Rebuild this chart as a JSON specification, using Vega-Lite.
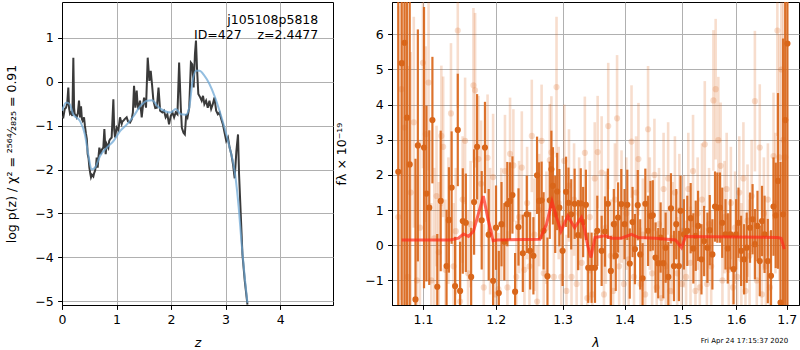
{
"$schema": "https://vega.github.io/schema/vega-lite/v6.json",
"autosize": {"type": "pad"},
"padding": {"left": 5, "top": 1, "right": 1, "bottom": 2},
"background": "white",
"config": {
  "font": "DejaVu Sans",
  "view": {"stroke": "black", "strokeWidth": 1},
  "axis": {"domainColor": "black", "tickColor": "black", "tickSize": 4.4, "labelFontSize": 12.5, "titleFontSize": 12.5, "labelColor": "black", "titleColor": "black", "titleFontWeight": "normal", "gridColor": "#b0b0b0", "gridWidth": 1, "labelPadding": 4.5, "zindex": 1, "labelFlush": false, "labelOverlap": false}
},
"bounds": "flush",
"spacing": 59,
"datasets": {
  "pz": [
    {"z":0,"lp":-0.8},{"z":0.024,"lp":-0.81},{"z":0.05,"lp":-0.62},{"z":0.073,"lp":-0.59},{"z":0.095,"lp":-0.5},{"z":0.116,"lp":-0.13},{"z":0.13,"lp":-0.6},{"z":0.147,"lp":-0.73},{"z":0.165,"lp":-0.7},{"z":0.19,"lp":-0.78},{"z":0.208,"lp":0.55},{"z":0.222,"lp":-0.6},{"z":0.232,"lp":-0.73},{"z":0.25,"lp":-0.76},{"z":0.269,"lp":-0.81},{"z":0.29,"lp":-0.72},{"z":0.312,"lp":-0.43},{"z":0.33,"lp":-0.81},{"z":0.349,"lp":-0.56},{"z":0.365,"lp":-0.85},{"z":0.379,"lp":-0.89},{"z":0.404,"lp":-0.81},{"z":0.42,"lp":-1.0},{"z":0.44,"lp":-1.19},{"z":0.455,"lp":-1.3},{"z":0.471,"lp":-1.65},{"z":0.488,"lp":-1.75},{"z":0.502,"lp":-1.96},{"z":0.52,"lp":-2.1},{"z":0.532,"lp":-2.18},{"z":0.55,"lp":-2.12},{"z":0.575,"lp":-2.16},{"z":0.59,"lp":-2.08},{"z":0.606,"lp":-2.03},{"z":0.625,"lp":-1.9},{"z":0.636,"lp":-1.73},{"z":0.654,"lp":-1.96},{"z":0.67,"lp":-1.7},{"z":0.685,"lp":-1.5},{"z":0.709,"lp":-1.65},{"z":0.73,"lp":-1.55},{"z":0.758,"lp":-1.5},{"z":0.777,"lp":-1.08},{"z":0.801,"lp":-1.65},{"z":0.82,"lp":-1.42},{"z":0.85,"lp":-1.5},{"z":0.865,"lp":-1.35},{"z":0.881,"lp":-1.31},{"z":0.911,"lp":-1.27},{"z":0.942,"lp":-0.4},{"z":0.958,"lp":-1.1},{"z":0.972,"lp":-1.27},{"z":1.003,"lp":-1.04},{"z":1.034,"lp":-1.1},{"z":1.064,"lp":-0.81},{"z":1.095,"lp":-0.96},{"z":1.11,"lp":-0.9},{"z":1.125,"lp":-0.89},{"z":1.15,"lp":-0.85},{"z":1.186,"lp":-0.81},{"z":1.21,"lp":-0.9},{"z":1.248,"lp":-0.93},{"z":1.278,"lp":-0.86},{"z":1.3,"lp":-0.7},{"z":1.321,"lp":-0.09},{"z":1.346,"lp":-0.59},{"z":1.37,"lp":-0.2},{"z":1.385,"lp":-0.5},{"z":1.401,"lp":-0.63},{"z":1.431,"lp":-0.43},{"z":1.462,"lp":-0.81},{"z":1.48,"lp":-0.6},{"z":1.505,"lp":-0.36},{"z":1.541,"lp":-0.59},{"z":1.572,"lp":0.55},{"z":1.602,"lp":0.02},{"z":1.627,"lp":0.25},{"z":1.651,"lp":-0.06},{"z":1.676,"lp":-0.43},{"z":1.71,"lp":-0.6},{"z":1.74,"lp":-0.59},{"z":1.77,"lp":-0.13},{"z":1.8,"lp":-0.66},{"z":1.84,"lp":-0.7},{"z":1.87,"lp":-0.66},{"z":1.901,"lp":-0.81},{"z":1.932,"lp":-0.74},{"z":1.963,"lp":-0.97},{"z":1.994,"lp":-0.78},{"z":2.025,"lp":-0.7},{"z":2.056,"lp":-0.81},{"z":2.086,"lp":-0.7},{"z":2.117,"lp":-0.74},{"z":2.148,"lp":0.44},{"z":2.179,"lp":-0.59},{"z":2.198,"lp":-1.05},{"z":2.228,"lp":-1.16},{"z":2.253,"lp":-1.2},{"z":2.278,"lp":-0.74},{"z":2.302,"lp":-0.81},{"z":2.333,"lp":-0.59},{"z":2.364,"lp":0.44},{"z":2.389,"lp":0.4},{"z":2.414,"lp":-0.13},{"z":2.438,"lp":0.63},{"z":2.457,"lp":0.94},{"z":2.475,"lp":0.33},{"z":2.5,"lp":-0.28},{"z":2.537,"lp":-0.36},{"z":2.562,"lp":-0.43},{"z":2.586,"lp":-0.32},{"z":2.611,"lp":-0.51},{"z":2.642,"lp":-0.43},{"z":2.673,"lp":-0.59},{"z":2.704,"lp":-0.43},{"z":2.735,"lp":-0.62},{"z":2.765,"lp":-0.51},{"z":2.796,"lp":-0.36},{"z":2.827,"lp":-0.66},{"z":2.858,"lp":-0.74},{"z":2.889,"lp":-0.7},{"z":2.92,"lp":-0.85},{"z":2.951,"lp":-0.97},{"z":2.981,"lp":-1.16},{"z":3.012,"lp":-1.35},{"z":3.043,"lp":-1.27},{"z":3.074,"lp":-1.5},{"z":3.105,"lp":-1.65},{"z":3.136,"lp":-1.88},{"z":3.167,"lp":-2.2},{"z":3.198,"lp":-1.58},{"z":3.228,"lp":-1.2},{"z":3.247,"lp":-2.1},{"z":3.278,"lp":-3.02},{"z":3.309,"lp":-3.93},{"z":3.352,"lp":-4.54},{"z":3.401,"lp":-5.08}
  ],
  "smooth": [
    {"z":0,"lp":-0.66},{"z":0.08,"lp":-0.47},{"z":0.142,"lp":-0.51},{"z":0.204,"lp":-0.74},{"z":0.327,"lp":-0.89},{"z":0.42,"lp":-1.2},{"z":0.481,"lp":-1.65},{"z":0.543,"lp":-2.0},{"z":0.605,"lp":-1.96},{"z":0.698,"lp":-1.69},{"z":0.821,"lp":-1.5},{"z":0.944,"lp":-1.35},{"z":1.068,"lp":-1.12},{"z":1.191,"lp":-0.97},{"z":1.315,"lp":-0.78},{"z":1.438,"lp":-0.55},{"z":1.562,"lp":-0.43},{"z":1.654,"lp":-0.42},{"z":1.747,"lp":-0.55},{"z":1.87,"lp":-0.66},{"z":1.994,"lp":-0.7},{"z":2.086,"lp":-0.62},{"z":2.179,"lp":-0.74},{"z":2.272,"lp":-0.75},{"z":2.333,"lp":-0.59},{"z":2.395,"lp":0.02},{"z":2.457,"lp":0.25},{"z":2.519,"lp":0.25},{"z":2.611,"lp":0.14},{"z":2.704,"lp":-0.05},{"z":2.796,"lp":-0.32},{"z":2.889,"lp":-0.66},{"z":2.981,"lp":-1.05},{"z":3.074,"lp":-1.5},{"z":3.167,"lp":-2.04},{"z":3.241,"lp":-2.87},{"z":3.29,"lp":-3.63},{"z":3.352,"lp":-4.47},{"z":3.401,"lp":-5.04}
  ],
  "dark": [
    {"l":1.068,"f":2.09,"e":9},{"l":1.0724,"f":5.18,"e":9},{"l":1.076,"f":5.76,"e":9},{"l":1.0791,"f":3.63,"e":9},{"l":1.0827,"f":2.3,"e":9},{"l":1.0902,"f":-1.54,"e":4},{"l":1.0933,"f":2.84,"e":3.3},{"l":1.1014,"f":2.78,"e":4},{"l":1.1046,"f":1.47,"e":2.5},{"l":1.1083,"f":1.07,"e":2.2},{"l":1.1125,"f":3.56,"e":1.8},{"l":1.119,"f":-1.18,"e":1.5},{"l":1.1236,"f":1.26,"e":2},{"l":1.1315,"f":-0.59,"e":1.6},{"l":1.1347,"f":0.72,"e":1.5},{"l":1.1384,"f":1.64,"e":1.6},{"l":1.1431,"f":-1.16,"e":1.4},{"l":1.1468,"f":3.28,"e":1.6},{"l":1.15,"f":-1.3,"e":1.4},{"l":1.1537,"f":0.69,"e":1.5},{"l":1.1579,"f":0.64,"e":1.4},{"l":1.1653,"f":-0.9,"e":1.4},{"l":1.1694,"f":1.23,"e":1.5},{"l":1.1736,"f":2.8,"e":1.5},{"l":1.1801,"f":0.71,"e":1.4},{"l":1.1847,"f":2.78,"e":1.3},{"l":1.19,"f":0.3,"e":1.3},{"l":1.1963,"f":-1.01,"e":1.2},{"l":1.2005,"f":0.5,"e":1.2},{"l":1.2045,"f":-1.36,"e":1.2},{"l":1.2084,"f":0.6,"e":1.2},{"l":1.2125,"f":0.1,"e":1.1},{"l":1.2168,"f":1.17,"e":1.2},{"l":1.2208,"f":1.26,"e":1.1},{"l":1.2243,"f":1.43,"e":1.1},{"l":1.2282,"f":-1.32,"e":1.1},{"l":1.2332,"f":0.52,"e":1.1},{"l":1.2396,"f":-0.23,"e":1.1},{"l":1.2455,"f":0.88,"e":1.1},{"l":1.2505,"f":-0.16,"e":1.1},{"l":1.2554,"f":-0.3,"e":1.1},{"l":1.2609,"f":1.99,"e":1.1},{"l":1.2639,"f":1.26,"e":1.1},{"l":1.2678,"f":1.28,"e":1.1},{"l":1.2708,"f":0.41,"e":1.1},{"l":1.2767,"f":-0.88,"e":1.1},{"l":1.2802,"f":1.28,"e":1.1},{"l":1.2827,"f":2.16,"e":1.1},{"l":1.2851,"f":1.69,"e":1.1},{"l":1.2886,"f":0.88,"e":1.1},{"l":1.2916,"f":1.53,"e":1.1},{"l":1.295,"f":1.07,"e":1.1},{"l":1.3,"f":-0.16,"e":1.0},{"l":1.3054,"f":1.52,"e":1.0},{"l":1.3092,"f":1.21,"e":1.0},{"l":1.3135,"f":0.88,"e":1.0},{"l":1.3189,"f":1.18,"e":1.0},{"l":1.3243,"f":0.29,"e":1.0},{"l":1.3286,"f":1.19,"e":1.0},{"l":1.3324,"f":0.66,"e":1.0},{"l":1.3368,"f":1.15,"e":1.0},{"l":1.3405,"f":-0.64,"e":1.0},{"l":1.3459,"f":-0.64,"e":1.0},{"l":1.3514,"f":-0.64,"e":1.0},{"l":1.3551,"f":0.41,"e":1.0},{"l":1.3622,"f":-0.16,"e":1.0},{"l":1.3676,"f":0.39,"e":1.0},{"l":1.3724,"f":1.18,"e":1.0},{"l":1.3773,"f":-0.73,"e":1.0},{"l":1.3822,"f":0.6,"e":1.0},{"l":1.3854,"f":-0.3,"e":1.0},{"l":1.3892,"f":0.79,"e":1.0},{"l":1.3946,"f":1.17,"e":1.0},{"l":1.4,"f":0.6,"e":1.0},{"l":1.4047,"f":1.15,"e":1.0},{"l":1.4088,"f":-0.52,"e":1.0},{"l":1.4135,"f":0.66,"e":1.0},{"l":1.4176,"f":-0.11,"e":1.0},{"l":1.4224,"f":1.14,"e":1.0},{"l":1.4265,"f":-0.26,"e":1.0},{"l":1.4306,"f":-0.94,"e":1.0},{"l":1.4353,"f":1.18,"e":1.0},{"l":1.44,"f":0.41,"e":1.0},{"l":1.4441,"f":0.83,"e":1.0},{"l":1.4482,"f":0.85,"e":1.0},{"l":1.4529,"f":-0.35,"e":1.0},{"l":1.4576,"f":-0.51,"e":1.0},{"l":1.4618,"f":0.22,"e":1.0},{"l":1.4665,"f":-0.51,"e":1.0},{"l":1.4706,"f":-0.07,"e":1.0},{"l":1.4753,"f":-0.9,"e":1.0},{"l":1.48,"f":1.05,"e":1.0},{"l":1.4853,"f":-0.59,"e":1.0},{"l":1.4894,"f":0.6,"e":1.0},{"l":1.4941,"f":-0.59,"e":1.0},{"l":1.4971,"f":0.98,"e":1.0},{"l":1.5031,"f":0.31,"e":1.0},{"l":1.5092,"f":0.41,"e":1.0},{"l":1.5153,"f":0.77,"e":1.0},{"l":1.5202,"f":-0.09,"e":1.0},{"l":1.5245,"f":0.27,"e":1.0},{"l":1.5288,"f":0.55,"e":1.0},{"l":1.535,"f":-0.4,"e":1.0},{"l":1.5399,"f":0.12,"e":1.0},{"l":1.546,"f":-0.07,"e":1.0},{"l":1.5503,"f":0.43,"e":1.0},{"l":1.5552,"f":-0.26,"e":1.0},{"l":1.5601,"f":1.1,"e":1.0},{"l":1.5644,"f":1.07,"e":1.0},{"l":1.5693,"f":1.07,"e":1.0},{"l":1.5736,"f":0.64,"e":1.0},{"l":1.5798,"f":0.31,"e":1.0},{"l":1.5841,"f":-0.09,"e":1.0},{"l":1.589,"f":0.31,"e":1.0},{"l":1.5951,"f":-0.68,"e":1.0},{"l":1.6,"f":0.31,"e":1.0},{"l":1.6045,"f":0.64,"e":1.0},{"l":1.6096,"f":-0.16,"e":1.0},{"l":1.6153,"f":-0.4,"e":1.0},{"l":1.6204,"f":-0.07,"e":1.0},{"l":1.6268,"f":0.5,"e":1.0},{"l":1.6318,"f":0.74,"e":1.0},{"l":1.6363,"f":0.03,"e":1.0},{"l":1.6414,"f":0.55,"e":1.0},{"l":1.6459,"f":-0.45,"e":1.0},{"l":1.6503,"f":0.69,"e":1.0},{"l":1.6554,"f":0.31,"e":1.1},{"l":1.6618,"f":-0.45,"e":1.2},{"l":1.6682,"f":-0.87,"e":1.3},{"l":1.6732,"f":1.1,"e":1.4},{"l":1.6777,"f":0.85,"e":1.5},{"l":1.6822,"f":1.83,"e":2.5},{"l":1.6873,"f":-1.63,"e":4},{"l":1.6924,"f":0.88,"e":5},{"l":1.6968,"f":3.56,"e":8},{"l":1.7013,"f":5.74,"e":9}
  ],
  "light": [
    {"l":1.068,"f":0.8,"e":6},{"l":1.072,"f":4.44,"e":6},{"l":1.076,"f":3.35,"e":6},{"l":1.08,"f":-0.9,"e":6},{"l":1.084,"f":1.5,"e":4},{"l":1.088,"f":3.5,"e":3},{"l":1.092,"f":-1.0,"e":3},{"l":1.096,"f":0.5,"e":2.5},{"l":1.1,"f":5.19,"e":3},{"l":1.1037,"f":3.16,"e":2.5},{"l":1.1074,"f":4.63,"e":2.5},{"l":1.111,"f":-1.0,"e":2.2},{"l":1.115,"f":0.2,"e":2},{"l":1.118,"f":1.4,"e":2},{"l":1.121,"f":-0.2,"e":2},{"l":1.1245,"f":3.11,"e":2},{"l":1.1269,"f":2.8,"e":2},{"l":1.13,"f":-0.7,"e":2},{"l":1.134,"f":0.7,"e":1.8},{"l":1.1375,"f":3.75,"e":2},{"l":1.141,"f":-0.6,"e":1.8},{"l":1.144,"f":0.4,"e":1.8},{"l":1.1468,"f":6.11,"e":2.2},{"l":1.15,"f":-1.6,"e":1.8},{"l":1.1535,"f":1.3,"e":1.8},{"l":1.1569,"f":2.97,"e":1.8},{"l":1.161,"f":-0.8,"e":1.8},{"l":1.1645,"f":0.6,"e":1.8},{"l":1.1685,"f":4.55,"e":2.2},{"l":1.1708,"f":4.41,"e":2.2},{"l":1.1755,"f":2.45,"e":1.8},{"l":1.1792,"f":1.75,"e":1.8},{"l":1.183,"f":-1.2,"e":1.8},{"l":1.1884,"f":2.49,"e":1.8},{"l":1.192,"f":0.4,"e":1.8},{"l":1.1963,"f":1.94,"e":1.8},{"l":1.2,"f":-1.4,"e":1.8},{"l":1.204,"f":-1.25,"e":1.6},{"l":1.208,"f":0.6,"e":1.6},{"l":1.2134,"f":2.11,"e":1.6},{"l":1.217,"f":-1.2,"e":1.6},{"l":1.2208,"f":2.6,"e":1.6},{"l":1.2257,"f":2.27,"e":1.6},{"l":1.23,"f":-0.9,"e":1.6},{"l":1.234,"f":0.8,"e":1.6},{"l":1.2381,"f":2.21,"e":1.6},{"l":1.242,"f":-0.7,"e":1.6},{"l":1.246,"f":1.2,"e":1.6},{"l":1.2495,"f":-0.6,"e":1.6},{"l":1.253,"f":3.11,"e":1.6},{"l":1.257,"f":0.3,"e":1.6},{"l":1.261,"f":-1.6,"e":1.6},{"l":1.264,"f":1.0,"e":1.6},{"l":1.2678,"f":2.97,"e":1.6},{"l":1.271,"f":-0.8,"e":1.6},{"l":1.275,"f":0.5,"e":1.6},{"l":1.2802,"f":2.42,"e":1.6},{"l":1.2827,"f":2.64,"e":1.6},{"l":1.2865,"f":-0.9,"e":1.6},{"l":1.2906,"f":4.5,"e":2},{"l":1.294,"f":1.2,"e":1.6},{"l":1.298,"f":-0.9,"e":1.6},{"l":1.3027,"f":2.4,"e":1.6},{"l":1.306,"f":-1.3,"e":1.6},{"l":1.31,"f":1.7,"e":1.6},{"l":1.314,"f":-0.9,"e":1.6},{"l":1.318,"f":1.3,"e":1.6},{"l":1.322,"f":-1.1,"e":1.6},{"l":1.326,"f":0.9,"e":1.6},{"l":1.33,"f":-0.5,"e":1.6},{"l":1.3351,"f":2.63,"e":1.6},{"l":1.339,"f":-1.5,"e":1.6},{"l":1.343,"f":0.8,"e":1.6},{"l":1.347,"f":-1.4,"e":1.6},{"l":1.351,"f":1.9,"e":1.6},{"l":1.3557,"f":2.65,"e":1.6},{"l":1.3622,"f":2.07,"e":1.6},{"l":1.366,"f":-1.4,"e":1.6},{"l":1.369,"f":0.5,"e":1.6},{"l":1.373,"f":3.39,"e":1.8},{"l":1.377,"f":-0.3,"e":1.6},{"l":1.381,"f":-1.3,"e":1.6},{"l":1.384,"f":1.3,"e":1.6},{"l":1.3876,"f":3.61,"e":1.8},{"l":1.391,"f":-0.6,"e":1.6},{"l":1.395,"f":1.1,"e":1.6},{"l":1.399,"f":-1.1,"e":1.6},{"l":1.403,"f":0.9,"e":1.6},{"l":1.407,"f":-0.4,"e":1.6},{"l":1.4118,"f":2.95,"e":1.6},{"l":1.416,"f":-0.9,"e":1.6},{"l":1.4195,"f":1.5,"e":1.6},{"l":1.4235,"f":2.45,"e":1.6},{"l":1.427,"f":-1.1,"e":1.6},{"l":1.431,"f":0.3,"e":1.6},{"l":1.435,"f":-1.4,"e":1.6},{"l":1.44,"f":3.3,"e":1.8},{"l":1.443,"f":0.9,"e":1.6},{"l":1.447,"f":-0.8,"e":1.6},{"l":1.451,"f":2.0,"e":1.6},{"l":1.455,"f":-1.2,"e":1.6},{"l":1.459,"f":0.6,"e":1.6},{"l":1.463,"f":-1.5,"e":1.6},{"l":1.467,"f":1.6,"e":1.6},{"l":1.471,"f":-0.6,"e":1.6},{"l":1.475,"f":1.9,"e":1.6},{"l":1.479,"f":-1.3,"e":1.6},{"l":1.483,"f":0.2,"e":1.6},{"l":1.487,"f":1.5,"e":1.6},{"l":1.491,"f":-0.8,"e":1.6},{"l":1.495,"f":1.0,"e":1.6},{"l":1.499,"f":-1.1,"e":1.6},{"l":1.503,"f":0.4,"e":1.6},{"l":1.507,"f":-0.9,"e":1.6},{"l":1.511,"f":1.6,"e":1.6},{"l":1.515,"f":-0.5,"e":1.6},{"l":1.5196,"f":2.11,"e":1.6},{"l":1.524,"f":-1.3,"e":1.6},{"l":1.528,"f":0.9,"e":1.6},{"l":1.532,"f":-1.2,"e":1.6},{"l":1.536,"f":1.3,"e":1.6},{"l":1.5411,"f":2.87,"e":1.8},{"l":1.545,"f":-1.1,"e":1.6},{"l":1.549,"f":0.6,"e":1.6},{"l":1.553,"f":-0.6,"e":1.6},{"l":1.5571,"f":4.12,"e":2},{"l":1.5613,"f":4.44,"e":2},{"l":1.5663,"f":2.99,"e":1.8},{"l":1.5706,"f":2.26,"e":1.8},{"l":1.574,"f":-1.0,"e":1.6},{"l":1.578,"f":0.8,"e":1.6},{"l":1.582,"f":1.6,"e":1.6},{"l":1.586,"f":-0.7,"e":1.6},{"l":1.59,"f":1.2,"e":1.6},{"l":1.594,"f":-1.2,"e":1.6},{"l":1.598,"f":0.5,"e":1.6},{"l":1.602,"f":-0.9,"e":1.6},{"l":1.606,"f":1.5,"e":1.6},{"l":1.61,"f":-0.4,"e":1.6},{"l":1.614,"f":1.9,"e":1.6},{"l":1.618,"f":-1.3,"e":1.6},{"l":1.622,"f":0.7,"e":1.6},{"l":1.626,"f":-0.3,"e":1.6},{"l":1.63,"f":1.4,"e":1.6},{"l":1.6363,"f":4.1,"e":2},{"l":1.64,"f":-1.0,"e":1.6},{"l":1.6459,"f":2.78,"e":1.8},{"l":1.65,"f":-1.4,"e":1.6},{"l":1.654,"f":0.9,"e":1.6},{"l":1.658,"f":-0.6,"e":1.6},{"l":1.662,"f":1.3,"e":1.6},{"l":1.666,"f":-1.2,"e":1.6},{"l":1.6732,"f":2.54,"e":1.8},{"l":1.677,"f":1.2,"e":2},{"l":1.6809,"f":6.11,"e":3},{"l":1.685,"f":2.5,"e":3.5},{"l":1.689,"f":5.0,"e":4},{"l":1.693,"f":3.0,"e":6},{"l":1.697,"f":2.5,"e":8}
  ],
  "model": [
    {"l":1.0724,"f":0.15},{"l":1.1361,"f":0.15},{"l":1.1477,"f":0.2},{"l":1.1546,"f":0.32},{"l":1.1616,"f":0.25},{"l":1.1685,"f":0.4},{"l":1.1755,"f":0.9},{"l":1.1824,"f":1.4},{"l":1.1884,"f":0.8},{"l":1.1963,"f":0.13},{"l":1.201,"f":0.15},{"l":1.2653,"f":0.17},{"l":1.2752,"f":0.6},{"l":1.2837,"f":1.25},{"l":1.2906,"f":0.8},{"l":1.2975,"f":0.4},{"l":1.3081,"f":0.83},{"l":1.3189,"f":0.5},{"l":1.3297,"f":0.79},{"l":1.3351,"f":0.4},{"l":1.3395,"f":0.0},{"l":1.3449,"f":-0.35},{"l":1.3514,"f":0.22},{"l":1.3676,"f":0.27},{"l":1.3784,"f":0.2},{"l":1.3946,"f":0.2},{"l":1.4118,"f":0.31},{"l":1.4235,"f":0.22},{"l":1.4529,"f":0.2},{"l":1.4882,"f":0.15},{"l":1.4988,"f":-0.07},{"l":1.5061,"f":0.25},{"l":1.6809,"f":0.22},{"l":1.6885,"f":0.2},{"l":1.6949,"f":-0.11}
  ]
},
"hconcat": [
  {
    "width": 271, "height": 303,
    "layer": [
      {"data": {"name": "pz"}, "mark": {"type": "line", "color": "#3a3a3a", "strokeWidth": 2, "clip": true},
       "encoding": {
         "x": {"field": "z", "type": "quantitative", "title": "z", "scale": {"domain": [0, 4.97], "nice": false}, "axis": {"titleFontStyle": "italic", "values": [0,1,2,3,4], "titlePadding": 10}},
         "y": {"field": "lp", "type": "quantitative", "title": "log p(z) / χ² = ²⁵⁶⁴⁄₂₈₂₅ = 0.91", "scale": {"domain": [-5.09, 1.82], "nice": false}, "axis": {"values": [-5,-4,-3,-2,-1,0,1], "titlePadding": 16}}
       }},
      {"data": {"name": "smooth"}, "mark": {"type": "line", "color": "#6fa8d6", "strokeWidth": 2, "opacity": 0.75, "interpolate": "monotone", "clip": true},
       "encoding": {"x": {"field": "z", "type": "quantitative", "title": "z"}, "y": {"field": "lp", "type": "quantitative", "title": "log p(z) / χ² = ²⁵⁶⁴⁄₂₈₂₅ = 0.91"}}},
      {"data": {"values": [{"z": 4.7, "lp": 1.32, "t": "j105108p5818"}, {"z": 4.7, "lp": 0.98, "t": "ID=427\u00a0\u00a0\u00a0\u00a0z=2.4477"}]},
       "mark": {"type": "text", "align": "right", "baseline": "alphabetic", "fontSize": 12.5, "color": "black"},
       "encoding": {"x": {"field": "z", "type": "quantitative", "title": "z"}, "y": {"field": "lp", "type": "quantitative", "title": "log p(z) / χ² = ²⁵⁶⁴⁄₂₈₂₅ = 0.91"}, "text": {"field": "t"}}}
    ]
  },
  {
    "width": 407, "height": 303,
    "layer": [
      {"data": {"name": "light"}, "mark": {"type": "errorbar", "color": "#d9661a", "opacity": 0.22, "thickness": 2.6, "clip": true},
       "encoding": {
         "x": {"field": "l", "type": "quantitative", "title": "λ", "scale": {"type": "log", "domain": [1.06, 1.725], "nice": false}, "axis": {"titleFontStyle": "italic", "values": [1.1,1.2,1.3,1.4,1.5,1.6,1.7], "format": ".1f", "titlePadding": 10}},
         "y": {"field": "f", "type": "quantitative", "title": "fλ × 10⁻¹⁹", "scale": {"domain": [-1.7, 6.92], "nice": false, "zero": false}, "axis": {"values": [-1,0,1,2,3,4,5,6], "titlePadding": 16}},
         "yError": {"field": "e"}
       }},
      {"data": {"name": "light"}, "mark": {"type": "point", "filled": true, "color": "#d9661a", "opacity": 0.22, "size": 38, "clip": true},
       "encoding": {"x": {"field": "l", "type": "quantitative", "title": "λ"}, "y": {"field": "f", "type": "quantitative", "title": "fλ × 10⁻¹⁹"}}},
      {"data": {"name": "dark"}, "mark": {"type": "errorbar", "color": "#d9661a", "opacity": 0.92, "thickness": 2.2, "clip": true},
       "encoding": {"x": {"field": "l", "type": "quantitative", "title": "λ"}, "y": {"field": "f", "type": "quantitative", "title": "fλ × 10⁻¹⁹"}, "yError": {"field": "e"}}},
      {"data": {"name": "dark"}, "mark": {"type": "point", "filled": true, "color": "#d9661a", "opacity": 1, "size": 38, "clip": true},
       "encoding": {"x": {"field": "l", "type": "quantitative", "title": "λ"}, "y": {"field": "f", "type": "quantitative", "title": "fλ × 10⁻¹⁹"}}},
      {"data": {"name": "model"}, "mark": {"type": "line", "color": "#ff2a1a", "opacity": 0.7, "strokeWidth": 3},
       "encoding": {"x": {"field": "l", "type": "quantitative", "title": "λ"}, "y": {"field": "f", "type": "quantitative", "title": "fλ × 10⁻¹⁹"}}},
      {"mark": {"type": "rule", "color": "black", "strokeDash": [2, 3], "strokeWidth": 1.8},
       "encoding": {"y": {"datum": 0}}},
      {"data": {"values": [{"l": 1.7028, "f": -2.78, "t": "Fri Apr 24 17:15:37 2020"}]},
       "mark": {"type": "text", "align": "right", "baseline": "alphabetic", "fontSize": 7, "color": "black"},
       "encoding": {"x": {"field": "l", "type": "quantitative", "title": "λ"}, "y": {"field": "f", "type": "quantitative", "title": "fλ × 10⁻¹⁹"}, "text": {"field": "t"}}}
    ]
  }
]
}
